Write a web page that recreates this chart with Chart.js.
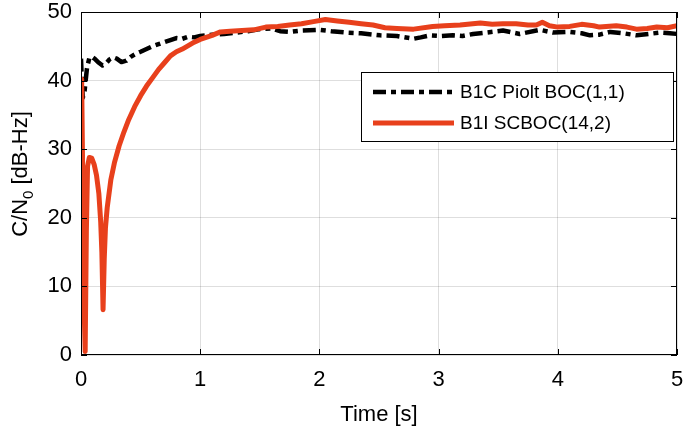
<!DOCTYPE html>
<html>
<head>
<meta charset="utf-8">
<script src="https://cdn.jsdelivr.net/npm/chart.js@4"></script>
<style>
    body { margin: 0; background: #fff; }
    #wrap { width: 685px; height: 434px; }
</style>
</head>
<body>
<div id="wrap"><canvas id="cnChart"></canvas></div>
<script>
// data ----------------------------------------------------------------
let seriesNames = ['B1C Piolt BOC(1,1)', 'B1I SCBOC(14,2)'];

let timeB1C = [0, 0.005, 0.015, 0.03, 0.05, 0.07, 0.09, 0.12, 0.15, 0.18, 0.21, 0.24, 0.27, 0.3, 0.34, 0.38, 0.42, 0.46, 0.5,
    0.55, 0.6, 0.65, 0.7, 0.75, 0.8, 0.85, 0.9, 0.95, 1.0, 1.1, 1.2, 1.3, 1.4, 1.5, 1.6, 1.67, 1.75, 1.85, 2.0, 2.1, 2.23,
    2.35, 2.51, 2.65, 2.79, 2.85, 2.93, 3.02, 3.12, 3.2, 3.29, 3.4, 3.54, 3.68, 3.85, 3.96, 4.1, 4.2, 4.27, 4.35, 4.44,
    4.55, 4.66, 4.76, 4.86, 4.94, 5.0];
let cnB1C = [43.2, 41, 37.5, 38.5, 41.8, 43.3, 43.5, 43.1, 42.6, 42.2, 42.5, 43.1, 43.4, 43.2, 42.7, 42.9, 43.5, 43.9, 44.2,
    44.6, 45.0, 45.3, 45.6, 45.9, 46.2, 46.1, 46.4, 46.3, 46.5, 46.7, 46.8, 47.0, 47.2, 47.5, 47.6, 47.2, 47.1, 47.3, 47.4, 47.2, 47.0,
    46.9, 46.6, 46.5, 46.1, 46.3, 46.6, 46.5, 46.6, 46.5, 46.8, 47.0, 47.3, 46.8, 47.4, 47.0, 47.1, 46.9, 46.6, 46.7, 47.1,
    46.9, 46.6, 46.8, 47.0, 46.9, 46.8];

let timeB1I = [0, 0.003, 0.008, 0.015, 0.025, 0.035, 0.045, 0.055, 0.07, 0.09, 0.11, 0.13, 0.15, 0.165, 0.175, 0.185, 0.195,
    0.205, 0.22, 0.25, 0.28, 0.32, 0.36, 0.4, 0.45, 0.5, 0.55, 0.6, 0.65, 0.7, 0.75, 0.8, 0.85, 0.9, 0.95, 1.0, 1.05, 1.1,
    1.17, 1.25, 1.35, 1.45, 1.55, 1.65, 1.75, 1.85, 1.95, 2.05, 2.15, 2.25, 2.35, 2.45, 2.55, 2.65, 2.79, 2.95, 3.05, 3.18,
    3.35, 3.45, 3.54, 3.65, 3.75, 3.82, 3.87, 3.93, 4.0, 4.1, 4.2, 4.3, 4.35, 4.49, 4.58, 4.66, 4.75, 4.83, 4.92, 5.0];
let cnB1I = [27.5, 33, 40.2, 25, 8, 0.5, 18, 27.5, 28.8, 28.7, 27.8, 26.2, 23.5, 19.5, 15, 6.6, 14,
    18.5, 21.5, 25.5, 28, 30.5, 32.5, 34.3, 36.2, 37.8, 39.2, 40.4, 41.6, 42.6, 43.6, 44.2, 44.6, 45.1, 45.6, 46.0, 46.3, 46.6,
    47.1, 47.2, 47.3, 47.4, 47.8, 47.9, 48.1, 48.3, 48.6, 48.9, 48.7, 48.5, 48.3, 48.1, 47.7, 47.6, 47.5, 47.9, 48.0, 48.1,
    48.4, 48.2, 48.3, 48.3, 48.1, 48.1, 48.5, 48.0, 47.8, 47.9, 48.2, 48.0, 47.8, 48.0, 47.8, 47.5, 47.6, 47.8, 47.7, 48.0];

let xTicks = [0, 1, 2, 3, 4, 5];
let yTicks = [0, 10, 20, 30, 40, 50];

let fontName = '"Liberation Sans", Arial, sans-serif';


function toPoints(xs, ys) {
    return xs.map((x, i) => ({ x: x, y: ys[i] }));
}


// frame, inner ticks, legend and axis titles -----------------------------------
let framePlugin = {
    id: 'frame',
    afterDatasetsDraw(chart) {
        let ctx = chart.ctx;
        let a = chart.chartArea;
        let xs = chart.scales.x;
        let ys = chart.scales.y;
        ctx.save();
        ctx.strokeStyle = '#000';
        ctx.lineWidth = 1;
        ctx.strokeRect(a.left + 0.5, a.top + 0.5, a.right - a.left - 1, a.bottom - a.top - 1);
        ctx.beginPath();
        xTicks.forEach(t => {
            let px = Math.round(xs.getPixelForValue(t)) + 0.5;
            ctx.moveTo(px, a.bottom); ctx.lineTo(px, a.bottom - 6);
            ctx.moveTo(px, a.top); ctx.lineTo(px, a.top + 6);
        });
        yTicks.forEach(t => {
            let py = Math.round(ys.getPixelForValue(t)) + 0.5;
            ctx.moveTo(a.left, py); ctx.lineTo(a.left + 6, py);
            ctx.moveTo(a.right, py); ctx.lineTo(a.right - 6, py);
        });
        ctx.stroke();

        // legend
        let lx = 361, ly = 72, lw = 312, lh = 69;
        ctx.fillStyle = '#fff';
        ctx.fillRect(lx, ly, lw, lh);
        ctx.strokeRect(lx + 0.5, ly + 0.5, lw, lh);
        chart.data.datasets.forEach((ds, i) => {
            let rowY = ly + 20 + i * 31;
            ctx.beginPath();
            ctx.strokeStyle = ds.borderColor;
            ctx.lineWidth = ds.borderWidth;
            ctx.setLineDash(ds.borderDash || []);
            ctx.moveTo(lx + 12, rowY);
            ctx.lineTo(lx + 93, rowY);
            ctx.stroke();
            ctx.setLineDash([]);
            ctx.fillStyle = '#000';
            ctx.font = '19px ' + fontName;
            ctx.textBaseline = 'middle';
            ctx.textAlign = 'left';
            ctx.fillText(ds.label, lx + 99, rowY + 1);
        });

        // x title
        ctx.fillStyle = '#000';
        ctx.font = '22px ' + fontName;
        ctx.textAlign = 'center';
        ctx.textBaseline = 'alphabetic';
        ctx.fillText('Time [s]', (a.left + a.right) / 2, 421);

        // y title with subscript
        ctx.translate(27, 174);
        ctx.rotate(-Math.PI / 2);
        let big = '22px ' + fontName;
        let small = '15px ' + fontName;
        ctx.font = big;
        let w1 = ctx.measureText('C/N').width;
        let w3 = ctx.measureText(' [dB-Hz]').width;
        ctx.font = small;
        let w2 = ctx.measureText('0').width;
        let x0 = -(w1 + w2 + w3) / 2;
        ctx.textAlign = 'left';
        ctx.font = big;
        ctx.fillText('C/N', x0, 0);
        ctx.font = small;
        ctx.fillText('0', x0 + w1, 6);
        ctx.font = big;
        ctx.fillText(' [dB-Hz]', x0 + w1 + w2, 0);
        ctx.restore();
    }
};


// chart ----------------------------------------------------------------
let ctx = document.getElementById('cnChart').getContext('2d');
new Chart(ctx, {
    type: 'line',
    data: {
        datasets: [{
            label: seriesNames[0],
            data: toPoints(timeB1C, cnB1C),
            borderColor: '#000',
            borderWidth: 4.5,
            borderDash: [13, 5, 5, 5],
            borderJoinStyle: 'round',
            pointRadius: 0,
            tension: 0,
            order: 2
        }, {
            label: seriesNames[1],
            data: toPoints(timeB1I, cnB1I),
            borderColor: '#e8401c',
            borderWidth: 5,
            borderJoinStyle: 'round',
            borderCapStyle: 'round',
            pointRadius: 0,
            tension: 0,
            order: 1
        }]
    },
    options: {
        responsive: true,
        maintainAspectRatio: false,
        animation: false,
        events: [],
        layout: { padding: { top: 12, right: 8, left: 0, bottom: 0 } },
        plugins: { legend: { display: false }, tooltip: { enabled: false } },
        scales: {
            x: {
                type: 'linear',
                min: 0,
                max: 5,
                afterBuildTicks: s => { s.ticks = xTicks.map(v => ({ value: v })); },
                afterFit: s => { s.height = 79; s.paddingLeft = 0; s.paddingRight = 0; },
                ticks: { color: '#000', font: { family: fontName, size: 22 }, padding: 12, maxRotation: 0 },
                grid: { color: 'rgba(0,0,0,0.13)', drawTicks: false },
                border: { display: false }
            },
            y: {
                min: 0,
                max: 50,
                afterBuildTicks: s => { s.ticks = yTicks.map(v => ({ value: v })); },
                afterFit: s => { s.width = 81; s.paddingTop = 0; s.paddingBottom = 0; },
                ticks: { color: '#000', font: { family: fontName, size: 22 }, padding: 9 },
                grid: { color: 'rgba(0,0,0,0.13)', drawTicks: false },
                border: { display: false }
            }
        }
    },
    plugins: [framePlugin]
});
</script>
</body>
</html>
